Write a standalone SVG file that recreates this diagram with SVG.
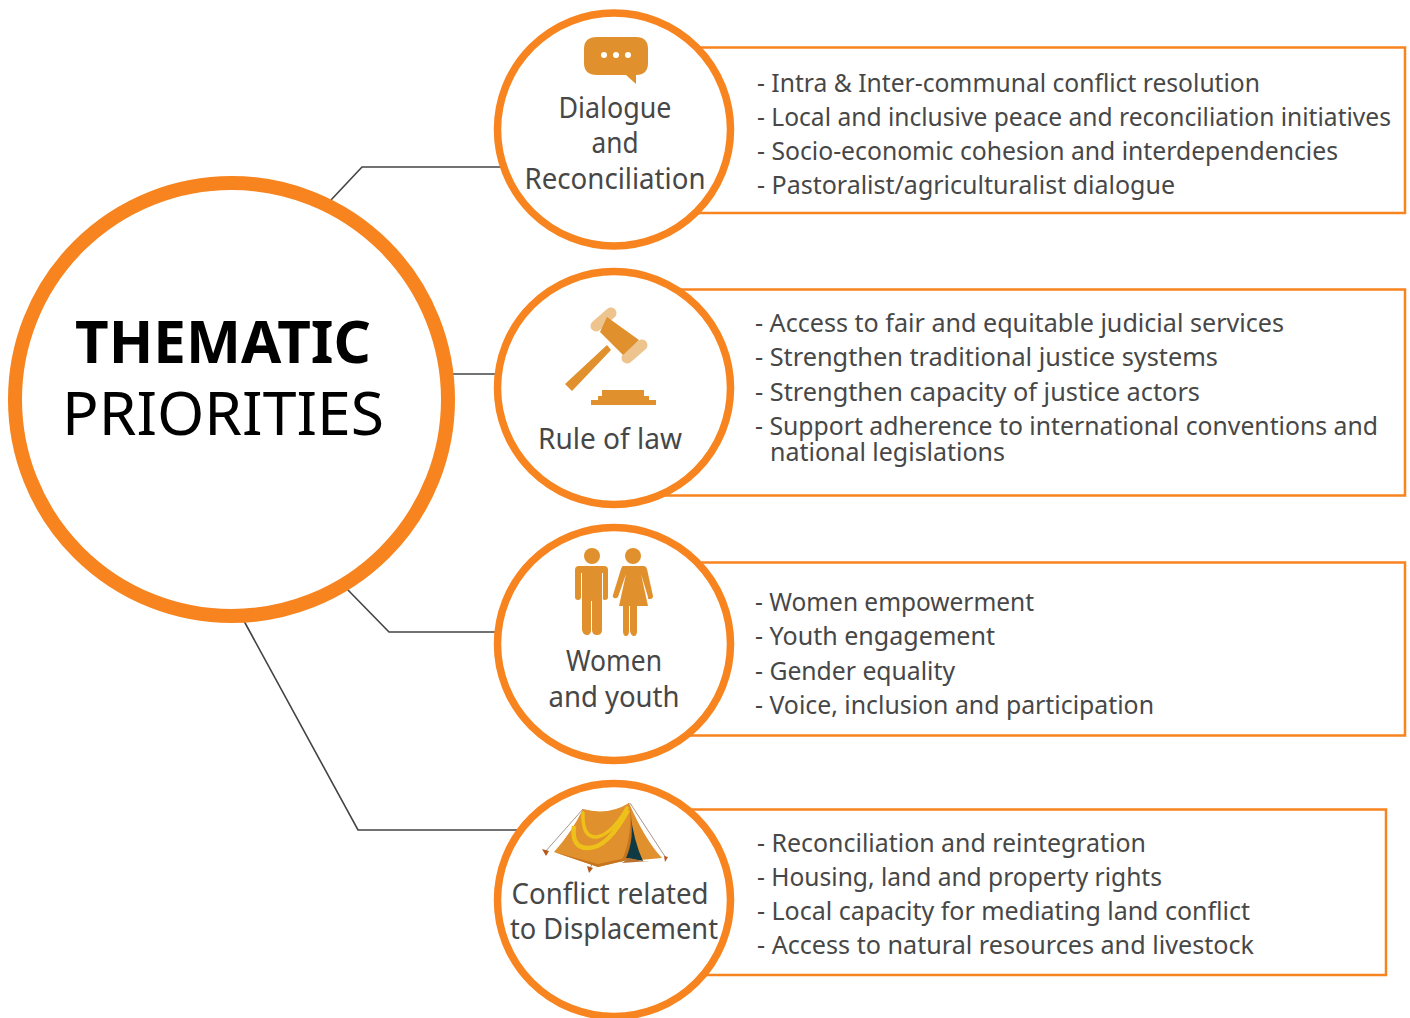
<svg xmlns="http://www.w3.org/2000/svg" width="1410" height="1018" viewBox="0 0 1410 1018">
<style>
text{font-family:"Noto Sans","Open Sans","DejaVu Sans",sans-serif;fill:#474747}
.l{font-size:26px}
.c{font-size:29px;text-anchor:middle}
.ring{fill:#fff;stroke:#f7841f;stroke-width:7.5}
.box{fill:none;stroke:#f7841f;stroke-width:2.5}
.ic{fill:#e0902c}
.cap{fill:none;stroke:#eec48e;stroke-width:11;stroke-linecap:round}
.conn{fill:none;stroke:#444;stroke-width:1.6}
</style>
<rect width="1410" height="1018" fill="#fff"/>
<g id="connectors">
<path class="conn" d="M331 200L362 167H502"/>
<path class="conn" d="M453 374H498"/>
<path class="conn" d="M347 589L389 632H498"/>
<path class="conn" d="M244 621L358 830H518"/>
</g>
<g id="hub">
<circle cx="231.500" cy="399.500" r="216.500" fill="#fff" stroke="#f7841f" stroke-width="14"/>
<text x="223" y="362.500" text-anchor="middle" font-size="60" font-weight="700" textLength="296" lengthAdjust="spacingAndGlyphs" style="fill:#000">THEMATIC</text>
<text x="223" y="435" text-anchor="middle" font-size="60" textLength="322" lengthAdjust="spacingAndGlyphs" style="fill:#000">PRIORITIES</text>
</g>
<g id="dialogue">
<rect class="box" x="680" y="47.500" width="725" height="165.500"/>
<circle class="ring" cx="614" cy="129.500" r="116.500"/>
<path class="ic" d="M597 37H636Q648 37 648 49V63Q648 75 636 75V84L626 75H597Q584 75 584 63V49Q584 37 597 37Z"/>
<circle cx="604" cy="55" r="3" fill="#fff"/><circle cx="616" cy="55" r="3" fill="#fff"/><circle cx="628" cy="55" r="3" fill="#fff"/>
<text class="c" x="615" y="118" textLength="113" lengthAdjust="spacingAndGlyphs">Dialogue</text>
<text class="c" x="615" y="153" textLength="47" lengthAdjust="spacingAndGlyphs">and</text>
<text class="c" x="615" y="189" textLength="181" lengthAdjust="spacingAndGlyphs">Reconciliation</text>
<text class="l" x="757" y="91.500" textLength="503" lengthAdjust="spacingAndGlyphs">- Intra &amp; Inter-communal conflict resolution</text>
<text class="l" x="757" y="125.500" textLength="634" lengthAdjust="spacingAndGlyphs">- Local and inclusive peace and reconciliation initiatives</text>
<text class="l" x="757" y="159.500" textLength="581" lengthAdjust="spacingAndGlyphs">- Socio-economic cohesion and interdependencies</text>
<text class="l" x="757" y="193.500" textLength="418" lengthAdjust="spacingAndGlyphs">- Pastoralist/agriculturalist dialogue</text>
</g>
<g id="rule-of-law">
<rect class="box" x="660" y="289.500" width="745" height="206"/>
<circle class="ring" cx="614" cy="388" r="116.500"/>
<path class="cap" d="M596 326L611 313M627 358L642 345"/>
<path class="ic" d="M607 317L639 340L623 355L600 332ZM607 345L611 350L572 391L565 384Z"/>
<path class="ic" d="M602 390H644V396H649V400H656V405H591V400H598V396H602Z"/>
<text class="c" x="610" y="449" textLength="144" lengthAdjust="spacingAndGlyphs">Rule of law</text>
<text class="l" x="755" y="331.500" textLength="529" lengthAdjust="spacingAndGlyphs">- Access to fair and equitable judicial services</text>
<text class="l" x="755" y="365.500" textLength="463" lengthAdjust="spacingAndGlyphs">- Strengthen traditional justice systems</text>
<text class="l" x="755" y="400.500" textLength="445" lengthAdjust="spacingAndGlyphs">- Strengthen capacity of justice actors</text>
<text class="l" x="755" y="434.500" textLength="623" lengthAdjust="spacingAndGlyphs">- Support adherence to international conventions and</text>
<text class="l" x="770" y="460.500" textLength="235" lengthAdjust="spacingAndGlyphs">national legislations</text>
</g>
<g id="women-youth">
<rect class="box" x="680" y="562.500" width="725" height="173"/>
<circle class="ring" cx="614" cy="644" r="116.500"/>
<circle class="ic" cx="592" cy="556" r="8"/><circle class="ic" cx="633" cy="556" r="8"/>
<path class="ic" d="M579 566H604Q608 566 608 570V597Q608 600 605 600T603 597V573H602V630Q602 635 597 635T592 630V601H591V630Q591 635 587 635T582 630V573H581V597Q581 600 578 600T575 597V570Q575 566 579 566Z"/>
<path class="ic" d="M623 566H644Q646 566 647 569L653 596Q653 599 650 599T648 597L641 574L648 606H637V631Q637 636 634 636T630 631V606H629V631Q629 636 626 636T623 631V606H619L626 574L618 597Q616 599 614 598T613 595L621 569Q622 566 623 566Z"/>
<text class="c" x="614" y="671" textLength="96" lengthAdjust="spacingAndGlyphs">Women</text>
<text class="c" x="614" y="707" textLength="131" lengthAdjust="spacingAndGlyphs">and youth</text>
<text class="l" x="755" y="610.500" textLength="279" lengthAdjust="spacingAndGlyphs">- Women empowerment</text>
<text class="l" x="755" y="644.500" textLength="240" lengthAdjust="spacingAndGlyphs">- Youth engagement</text>
<text class="l" x="755" y="679.500" textLength="200" lengthAdjust="spacingAndGlyphs">- Gender equality</text>
<text class="l" x="755" y="713.500" textLength="399" lengthAdjust="spacingAndGlyphs">- Voice, inclusion and participation</text>
</g>
<g id="displacement">
<rect class="box" x="680" y="809.500" width="706" height="165.500"/>
<circle class="ring" cx="614" cy="900" r="116.500"/>
<path fill="none" stroke="#9a8a80" stroke-width="0.900" d="M583 809L545 852M629 803L590 868M630 803L666 858"/>
<path fill="#b5581a" d="M542 849L549 851L546 856ZM587 866L593 868L589 873ZM664 856L668 857L665 862Z"/>
<path class="ic" d="M583 809Q608 816 629 803Q645 840 662 858L640 860L626 860L598 867L554 852Q572 832 583 809Z"/>
<path fill="#c7741f" d="M554 852L598 864L626 858L628 860L598 867Z"/>
<path fill="#c7741f" d="M630 808Q632 840 621 862L625 860Q636 840 630 808Z"/>
<path fill="#0f3a44" d="M630 812Q634 842 643 861L626 858Q635 838 630 812Z"/>
<path fill="#b87333" d="M622 863L629 858L643 861L650 861Z"/>
<path fill="none" stroke="#eec11a" stroke-width="3.500" stroke-linecap="round" d="M583 813Q582 838 597 837Q612 834 627 808"/>
<path fill="none" stroke="#eec11a" stroke-width="4.500" d="M574 826Q571 848 588 848Q608 848 628 810"/>
<text class="c" x="610" y="904" textLength="197" lengthAdjust="spacingAndGlyphs">Conflict related</text>
<text class="c" x="614" y="939" textLength="208" lengthAdjust="spacingAndGlyphs">to Displacement</text>
<text class="l" x="757" y="851.500" textLength="389" lengthAdjust="spacingAndGlyphs">- Reconciliation and reintegration</text>
<text class="l" x="757" y="885.500" textLength="405" lengthAdjust="spacingAndGlyphs">- Housing, land and property rights</text>
<text class="l" x="757" y="919.500" textLength="493" lengthAdjust="spacingAndGlyphs">- Local capacity for mediating land conflict</text>
<text class="l" x="757" y="953.500" textLength="497" lengthAdjust="spacingAndGlyphs">- Access to natural resources and livestock</text>
</g>
</svg>
